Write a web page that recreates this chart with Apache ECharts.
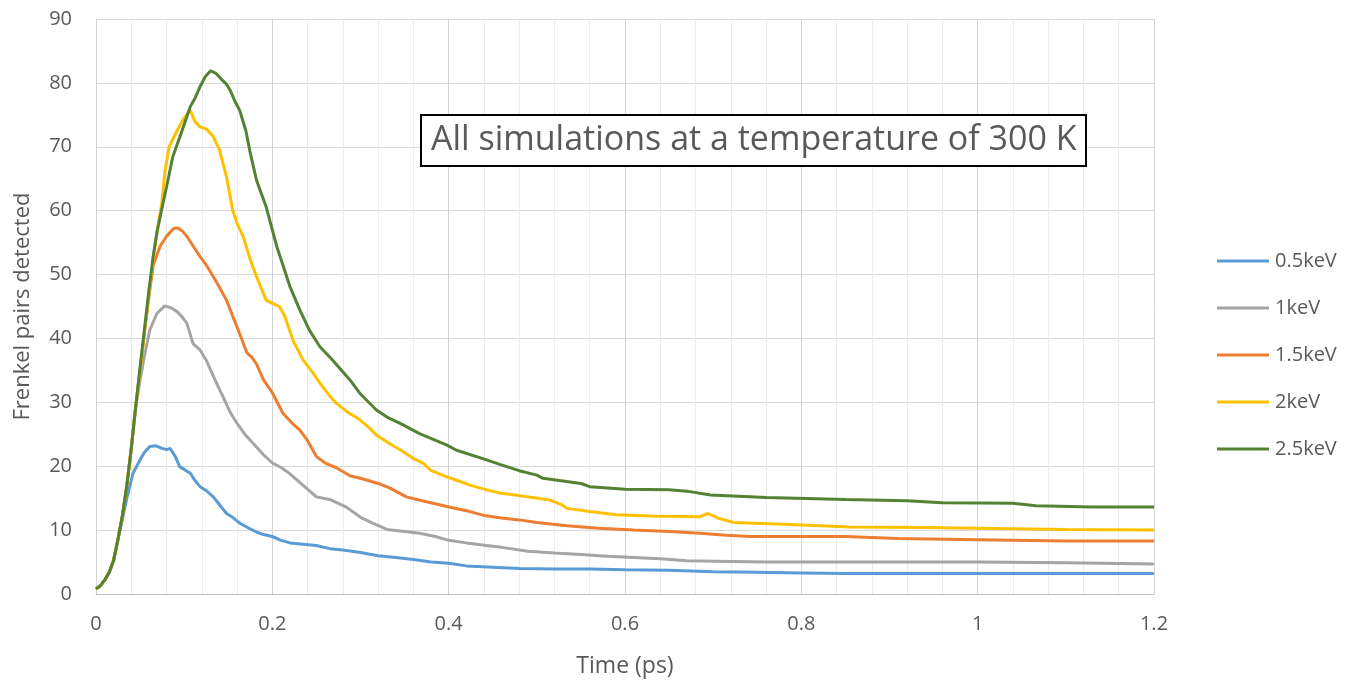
<!DOCTYPE html>
<html>
<head>
<meta charset="utf-8">
<script src="https://cdn.jsdelivr.net/npm/echarts@6/dist/echarts.min.js"></script>
<style>
html,body{margin:0;padding:0;background:#fff;}
#chart{width:1348px;height:685px;}
</style>
</head>
<body>
<div id="chart"></div>
<script>
// ---- data (time in ps, Frenkel pairs detected) ----
const seriesNames = ['0.5keV', '1keV', '1.5keV', '2keV', '2.5keV'];

const t05 = [0,0.005,0.01,0.015,0.02,0.025,0.03,0.035,0.042,0.05,0.055,0.061,0.068,0.075,0.08,0.084,0.09,0.095,0.1,0.107,0.112,0.118,0.125,0.133,0.14,0.148,0.155,0.163,0.172,0.182,0.19,0.2,0.21,0.22,0.235,0.25,0.265,0.28,0.3,0.32,0.34,0.36,0.38,0.4,0.42,0.45,0.48,0.52,0.56,0.6,0.65,0.7,0.75,0.8,0.85,0.9,1.0,1.1,1.2];
const v05 = [0.8,1.3,2.2,3.4,5.3,8.6,11.8,15,18.9,21,22.2,23.1,23.2,22.8,22.6,22.8,21.5,19.9,19.5,18.9,17.8,16.8,16.2,15.2,14,12.6,12,11.1,10.4,9.7,9.3,9.0,8.4,8.0,7.8,7.6,7.1,6.9,6.5,6.0,5.7,5.4,5.0,4.8,4.4,4.2,4.0,3.9,3.9,3.8,3.7,3.5,3.4,3.3,3.2,3.2,3.2,3.2,3.2];

const t10 = [0,0.005,0.01,0.015,0.02,0.025,0.03,0.035,0.04,0.045,0.05,0.054,0.061,0.069,0.078,0.085,0.092,0.097,0.103,0.11,0.118,0.125,0.135,0.144,0.152,0.16,0.17,0.182,0.19,0.2,0.21,0.22,0.235,0.25,0.265,0.284,0.3,0.315,0.33,0.35,0.367,0.385,0.4,0.42,0.443,0.46,0.49,0.52,0.55,0.58,0.61,0.64,0.67,0.72,0.76,0.9,1.0,1.1,1.2];
const v10 = [0.8,1.3,2.2,3.4,5.3,8.6,12.3,17,22.8,29.3,33.5,36.6,41.3,43.9,45.1,44.8,44.2,43.5,42.4,39.2,38.2,36.6,33.5,30.9,28.5,26.7,24.8,23,21.8,20.5,19.8,18.8,17,15.2,14.8,13.6,12.0,11.0,10.1,9.8,9.5,9.0,8.4,8.0,7.6,7.3,6.7,6.4,6.2,5.9,5.7,5.5,5.2,5.1,5.0,5.0,5.0,4.9,4.7];

const t15 = [0,0.005,0.01,0.015,0.02,0.025,0.03,0.035,0.04,0.045,0.05,0.055,0.06,0.065,0.0726,0.08,0.088,0.093,0.098,0.103,0.11,0.118,0.125,0.133,0.14,0.148,0.155,0.16,0.165,0.171,0.177,0.182,0.19,0.2,0.212,0.222,0.231,0.24,0.25,0.26,0.272,0.288,0.303,0.32,0.333,0.352,0.37,0.398,0.424,0.44,0.46,0.48,0.5,0.534,0.57,0.61,0.65,0.685,0.715,0.742,0.85,0.91,1.0,1.1,1.2];
const v15 = [0.8,1.3,2.2,3.4,5.3,8.6,12.3,17,22.8,29.3,35,41,46.5,51.5,54.4,56,57.2,57.3,56.8,56,54.5,52.8,51.5,49.7,48,46,43.5,41.8,40,37.8,37,36,33.5,31.5,28.3,26.8,25.7,24.0,21.5,20.5,19.8,18.5,18,17.3,16.6,15.2,14.6,13.7,12.9,12.3,11.9,11.6,11.2,10.7,10.3,10.0,9.8,9.5,9.2,9.0,9.0,8.7,8.5,8.3,8.3];

const t20 = [0,0.005,0.01,0.015,0.02,0.025,0.03,0.035,0.04,0.045,0.05,0.055,0.06,0.065,0.07,0.0745,0.078,0.083,0.09,0.095,0.1,0.107,0.112,0.118,0.125,0.133,0.14,0.148,0.155,0.16,0.167,0.175,0.182,0.193,0.2,0.208,0.214,0.224,0.235,0.245,0.254,0.265,0.273,0.285,0.299,0.31,0.318,0.33,0.348,0.36,0.371,0.379,0.395,0.409,0.425,0.443,0.458,0.48,0.515,0.528,0.534,0.56,0.59,0.63,0.685,0.694,0.705,0.723,0.78,0.855,0.94,1.0,1.1,1.2];
const v20 = [0.8,1.3,2.2,3.4,5.3,8.6,12.3,17,22.8,29.3,35,41,47,52.5,57.5,61,66,70,72,73.3,74.5,75.7,74,73.1,72.8,71.6,69.5,65.3,60.1,58,55.9,52.3,49.7,46,45.5,45,43.5,39.5,36.6,34.8,33,31,29.8,28.5,27.3,26,24.9,23.8,22.3,21.2,20.5,19.4,18.5,17.8,17,16.3,15.8,15.4,14.7,14,13.4,12.9,12.4,12.2,12.1,12.6,11.9,11.2,10.9,10.5,10.4,10.3,10.1,10.0];

const t25 = [0,0.005,0.01,0.015,0.02,0.025,0.03,0.035,0.04,0.045,0.05,0.055,0.06,0.065,0.069,0.075,0.08,0.087,0.095,0.1,0.107,0.112,0.118,0.124,0.13,0.136,0.142,0.148,0.152,0.158,0.163,0.17,0.175,0.182,0.188,0.193,0.2,0.205,0.212,0.22,0.231,0.242,0.254,0.269,0.288,0.3,0.318,0.33,0.345,0.367,0.398,0.409,0.443,0.458,0.48,0.5,0.507,0.55,0.56,0.6,0.65,0.67,0.697,0.76,0.85,0.92,0.96,1.04,1.066,1.13,1.2];
const v25 = [0.8,1.3,2.2,3.4,5.3,8.6,12.3,17,22.8,29.3,35.5,41.5,47.5,53,56.5,60.5,63.7,68.4,71.5,73.5,76.3,77.5,79.4,81,81.9,81.5,80.6,79.8,78.9,77,75.7,72.5,69,64.8,62.5,60.6,57,54.4,51.5,48.1,44.5,41.3,38.7,36.5,33.5,31.3,28.8,27.7,26.7,25.1,23.3,22.5,21,20.3,19.3,18.6,18.1,17.3,16.8,16.4,16.3,16.1,15.5,15.1,14.8,14.6,14.3,14.2,13.8,13.6,13.6];

const xTickLabels = ['0','0.2','0.4','0.6','0.8','1','1.2'];
const colors = ['#5B9BD5', '#A5A5A5', '#ED7D31', '#FFC000', '#548235'];

const seriesData = [[t05,v05],[t10,v10],[t15,v15],[t20,v20],[t25,v25]].map(([t,v]) => t.map((x,i) => [x, v[i]]));

const FONT = 'Open Sans';
const chart = echarts.init(document.getElementById('chart'), null, {renderer:'canvas'});
chart.setOption({
  backgroundColor: '#ffffff',
  animation: false,
  color: colors,
  title: {
    text: 'All simulations at a temperature of 300 K',
    left: 421, top: 115,
    padding: [5, 10, 5, 10],
    borderColor: '#000000', borderWidth: 2,
    backgroundColor: '#ffffff',
    textStyle: {fontFamily: FONT, fontSize: 34, lineHeight: 41, fontWeight: 'normal', color: '#595959'}
  },
  grid: {left: 96, right: 194, top: 19, bottom: 91, containLabel: false, outerBoundsMode: 'none'},
  legend: {
    orient: 'vertical', left: 1212, top: 246,
    itemWidth: 52, itemHeight: 3, itemGap: 27,
    icon: 'rect',
    data: seriesNames,
    textStyle: {fontFamily: FONT, fontSize: 20, color: '#595959', lineHeight: 20, padding: [0,0,0,1]}
  },
  xAxis: {
    type: 'value', min: 0, max: 1.2, interval: 0.2,
    name: 'Time (ps)', nameLocation: 'middle', nameGap: 61,
    nameTextStyle: {fontFamily: FONT, fontSize: 23, color: '#595959'},
    axisLine: {show: true, lineStyle: {color: '#BFBFBF', width: 1}},
    axisTick: {show: false},
    axisLabel: {fontFamily: FONT, fontSize: 20, color: '#595959', margin: 20,
      formatter: (val) => xTickLabels[Math.round(val / 0.2)]},
    splitLine: {show: true, lineStyle: {color: '#D4D4D4', width: 1}},
    minorTick: {show: false, splitNumber: 5},
    minorSplitLine: {show: true, lineStyle: {color: '#EBEBEB', width: 1}}
  },
  yAxis: {
    type: 'value', min: 0, max: 90, interval: 10,
    name: 'Frenkel pairs detected', nameLocation: 'middle', nameGap: 62,
    nameTextStyle: {fontFamily: FONT, fontSize: 22, color: '#595959'},
    axisLine: {show: false},
    axisTick: {show: false},
    axisLabel: {fontFamily: FONT, fontSize: 20, color: '#595959', margin: 24},
    splitLine: {show: true, lineStyle: {color: '#D9D9D9', width: 1}}
  },
  series: seriesNames.map((name, i) => ({
    name: name,
    type: 'line',
    data: seriesData[i],
    showSymbol: false,
    symbol: 'none',
    smooth: false,
    lineStyle: {width: 3, color: colors[i]},
    itemStyle: {color: colors[i]},
    z: 2 + i
  }))
});
</script>
</body>
</html>
